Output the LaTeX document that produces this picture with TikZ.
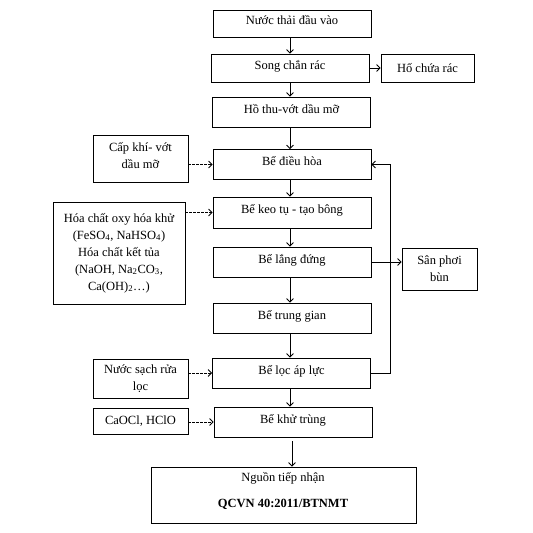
\documentclass[tikz,border=0pt]{standalone}
\usepackage{fontspec}
\setmainfont{Liberation Serif}
\usetikzlibrary{arrows.meta}
\tikzset{
  box/.style={draw, line width=0.8pt, align=center, inner sep=1pt,
    font=\fontsize{12.5}{17}\selectfont},
  mainbox/.style={box, minimum width=158pt, minimum height=30pt,
    text height=10pt, text depth=8pt},
  arr/.style={line width=0.8pt, -{Straight Barb[length=3.5pt,width=7pt]}},
  darr/.style={arr, dash pattern=on 2.5pt off 1.5pt},
  txt/.style={inner sep=0pt, font=\fontsize{12.5}{17}\selectfont}
}
\begin{document}
\begin{tikzpicture}[x=1pt,y=-1pt]
\useasboundingbox (0,0) rectangle (533,533);
% main column
\node[mainbox, minimum height=27pt] (n1) at (292,23.5) {Nước thải đầu vào};
\node[mainbox, minimum height=28pt] (n2) at (290,68) {Song chắn rác};
\node[mainbox] (n3) at (291.5,112) {Hồ thu-vớt dầu mỡ};
\node[mainbox] (n4) at (292,164.5) {Bể điều hòa};
\node[mainbox, minimum height=31pt] (n5) at (292,212.5) {Bể keo tụ - tạo bông};
\node[mainbox] (n6) at (292,262) {Bể lắng đứng};
\node[mainbox] (n7) at (292,318) {Bể trung gian};
\node[mainbox] (n8) at (291.5,373) {Bể lọc áp lực};
\node[mainbox] (n9) at (293,422) {Bể khử trùng};
\node[box, minimum width=265pt, minimum height=56pt] (n10) at (283.5,495) {};
\node[txt] (t10a) at (283,478) {Nguồn tiếp nhận};
\node[txt] (t10b) at (283,504) {\textbf{QCVN 40:2011/BTNMT}};
% side boxes
\node[box, minimum width=93pt, minimum height=28pt] (hr) at (427.5,68) {Hố chứa rác};
\node[box, minimum width=95pt, minimum height=47pt, text depth=6pt] (ck) at (140.5,158.5) {Cấp khí- vớt\\dầu mỡ};
\node[box, minimum width=132pt, minimum height=102pt] (hc) at (119,253)
  {Hóa chất oxy hóa khử\\(FeSO\textsubscript{4}, NaHSO\textsubscript{4})\\Hóa chất kết tủa\\(NaOH, Na\textsubscript{2}CO\textsubscript{3},\\Ca(OH)\textsubscript{2}…)};
\node[box, minimum width=75pt, minimum height=42pt] (sp) at (439.5,269) {Sân phơi\\bùn};
\node[box, minimum width=95pt, minimum height=39pt] (ns) at (140.5,378.5) {Nước sạch rửa\\lọc};
\node[box, minimum width=95pt, minimum height=26pt] (ca) at (140.5,421) {CaOCl, HClO};
% main arrows
\draw[arr] (n1.south -| 290,0) -- (n2.north -| 290,0);
\draw[arr] (n2.south -| 290,0) -- (n3.north -| 290,0);
\draw[arr] (n3.south -| 290,0) -- (n4.north -| 290,0);
\draw[arr] (n4.south -| 290,0) -- (n5.north -| 290,0);
\draw[arr] (n5.south -| 290,0) -- (n6.north -| 290,0);
\draw[arr] (n6.south -| 290,0) -- (n7.north -| 290,0);
\draw[arr] (n7.south -| 290,0) -- (n8.north -| 290,0);
\draw[arr] (n8.south -| 290,0) -- (n9.north -| 290,0);
\coordinate (c9) at (292,441);
\draw[arr] (c9) -- (n10.north -| c9);
% side arrows
\draw[arr] (n2.east) -- (hr.west);
\draw[darr] (ck.east |- n4.west) -- (n4.west);
\draw[darr] (hc.east |- n5.west) -- (n5.west);
\draw[arr] (n6.east) -- (n6.east -| sp.west);
\draw[darr] (ns.east |- n8.west) -- (n8.west);
\draw[darr] (ca.east |- n9.west) -- (n9.west);
% feedback
\coordinate (fb) at (390,373);
\draw[arr] (n8.east) -- (fb) |- (n4.east);
\end{tikzpicture}
\end{document}
